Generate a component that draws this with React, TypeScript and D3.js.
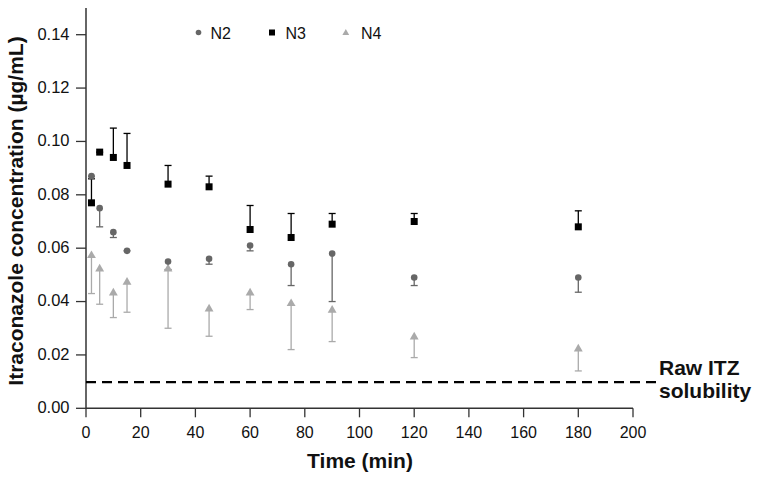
import React from "react";
import * as d3 from "d3";

const times = [2, 5, 10, 15, 30, 45, 60, 75, 90, 120, 180];
const n2Values = [0.087, 0.075, 0.066, 0.059, 0.055, 0.056, 0.061, 0.054, 0.058, 0.049, 0.049];
const n2Lower = [0.087, 0.068, 0.064, 0.059, 0.052, 0.054, 0.059, 0.046, 0.040, 0.046, 0.0435];
const n3Values = [0.077, 0.096, 0.094, 0.091, 0.084, 0.083, 0.067, 0.064, 0.069, 0.070, 0.068];
const n3Upper = [0.086, 0.096, 0.105, 0.103, 0.091, 0.087, 0.076, 0.073, 0.073, 0.073, 0.074];
const n4Values = [0.058, 0.053, 0.044, 0.048, 0.053, 0.038, 0.044, 0.040, 0.0375, 0.0275, 0.023];
const n4Lower = [0.043, 0.039, 0.034, 0.036, 0.030, 0.027, 0.037, 0.022, 0.025, 0.019, 0.014];
const xTicks = [0, 20, 40, 60, 80, 100, 120, 140, 160, 180, 200];
const yTicks = [0, 0.02, 0.04, 0.06, 0.08, 0.1, 0.12, 0.14];
const solubility = 0.0098;
const seriesNames = ["N2", "N3", "N4"];

const FONT = "'Liberation Sans', Arial, sans-serif";
const C2 = "#666666";
const C3 = "#000000";
const C4 = "#aaaaaa";

export default function App() {
  const x = d3.scaleLinear().domain([0, 200]).range([86, 633]);
  const y = d3.scaleLinear().domain([0, 0.14]).range([408.3, 34.7]);
  const axisColor = "#333";
  const cap = 3.5;
  const tri = d3.symbol().type(d3.symbolTriangle).size(34)();
  const triSmall = d3.symbol().type(d3.symbolTriangle).size(20)();

  const errBar = (xv: number, a: number, b: number, color: string, key: string) => (
    <g key={key} stroke={color} strokeWidth={1.3}>
      <line x1={x(xv)} x2={x(xv)} y1={y(a)} y2={y(b)} />
      <line x1={x(xv) - cap} x2={x(xv) + cap} y1={y(b)} y2={y(b)} />
    </g>
  );

  return (
    <svg width={761} height={480} style={{ position: "absolute", left: 0, top: 0, background: "#fff" }} fontFamily={FONT}>
      {/* axes */}
      <line x1={x(0)} x2={x(0)} y1={y(0)} y2={y(0.15)} stroke={axisColor} strokeWidth={1.5} />
      <line x1={x(0)} x2={x(200)} y1={y(0)} y2={y(0)} stroke={axisColor} strokeWidth={1.5} />
      {yTicks.map((t) => (
        <g key={"y" + t}>
          <line x1={x(0) - 10} x2={x(0)} y1={y(t)} y2={y(t)} stroke={axisColor} strokeWidth={1.3} />
          <text x={69.5} y={y(t) + 4.8} textAnchor="end" fontSize={16.5} fill="#111">
            {t.toFixed(2)}
          </text>
        </g>
      ))}
      {xTicks.map((t) => (
        <g key={"x" + t}>
          <line x1={x(t)} x2={x(t)} y1={y(0)} y2={y(0) + 9} stroke={axisColor} strokeWidth={1.3} />
          <text x={x(t)} y={437.5} textAnchor="middle" fontSize={16} fill="#111">
            {t}
          </text>
        </g>
      ))}
      <text x={360} y={468} textAnchor="middle" fontSize={21} fontWeight="bold" fill="#111">
        Time (min)
      </text>
      <text
        transform={`translate(23, 211) rotate(-90)`}
        textAnchor="middle"
        fontSize={21}
        fontWeight="bold"
        fill="#111"
      >
        Itraconazole concentration (µg/mL)
      </text>

      {/* solubility line */}
      <line x1={x(0)} x2={657} y1={y(solubility)} y2={y(solubility)} stroke="#000" strokeWidth={2.2} strokeDasharray="10,6" />
      <text x={659} y={375} fontSize={21} fontWeight="bold" fill="#111">Raw ITZ</text>
      <text x={659} y={398} fontSize={21} fontWeight="bold" fill="#111">solubility</text>

      {/* error bars */}
      {times.map((t, i) => errBar(t, n4Values[i], n4Lower[i], C4, "e4" + i))}
      {times.map((t, i) => errBar(t, n2Values[i], n2Lower[i], C2, "e2" + i))}
      {times.map((t, i) => errBar(t, n3Values[i], n3Upper[i], C3, "e3" + i))}

      {/* markers */}
      {times.map((t, i) => (
        <path key={"m4" + i} d={tri} transform={`translate(${x(t)},${y(n4Values[i]) + 2})`} fill={C4} />
      ))}
      {times.map((t, i) => (
        <circle key={"m2" + i} cx={x(t)} cy={y(n2Values[i])} r={3.3} fill={C2} />
      ))}
      {times.map((t, i) => (
        <rect key={"m3" + i} x={x(t) - 3.5} y={y(n3Values[i]) - 3.5} width={7} height={7} fill={C3} />
      ))}

      {/* legend */}
      <circle cx={198.5} cy={32.5} r={2.8} fill={C2} />
      <text x={210.5} y={39} fontSize={16} fill="#111">{seriesNames[0]}</text>
      <rect x={269} y={29.5} width={6} height={6} fill={C3} />
      <text x={285.5} y={39} fontSize={16} fill="#111">{seriesNames[1]}</text>
      <path d={triSmall} transform="translate(345.8,33)" fill={C4} />
      <text x={361} y={39} fontSize={16} fill="#111">{seriesNames[2]}</text>
    </svg>
  );
}
